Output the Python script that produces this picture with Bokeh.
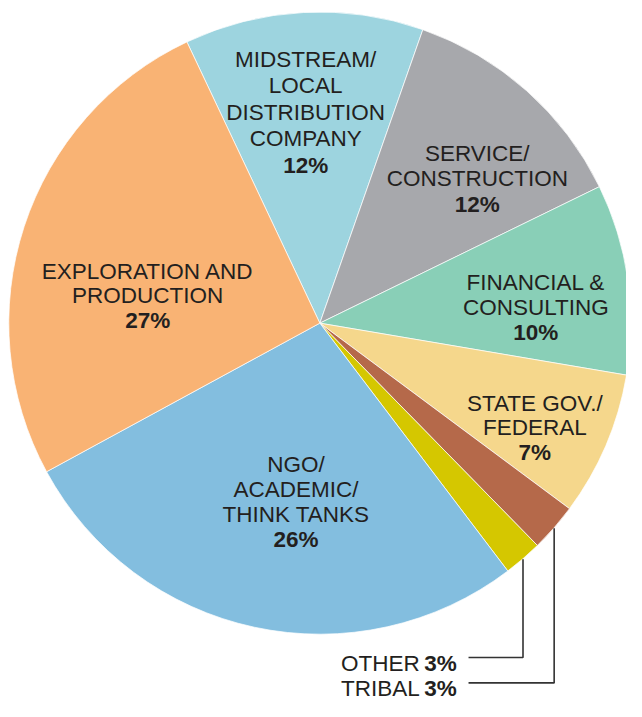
from bokeh.plotting import figure
from bokeh.models import Range1d, ColumnDataSource
from bokeh.core.properties import value
from bokeh.embed import file_html
from bokeh.resources import INLINE
import math

# ---- data (clockwise from the top boundary) ----
categories = ["MIDSTREAM/\nLOCAL\nDISTRIBUTION\nCOMPANY", "SERVICE/\nCONSTRUCTION",
              "FINANCIAL &\nCONSULTING", "STATE GOV./\nFEDERAL", "TRIBAL", "OTHER",
              "NGO/\nACADEMIC/\nTHINK TANKS", "EXPLORATION AND\nPRODUCTION"]
shares = [12.4, 12.4, 9.9, 7.5, 2.5, 2.0, 27.4, 25.9]          # drawn slice sizes
pct_labels = ["12%", "12%", "10%", "7%", "3%", "3%", "26%", "27%"]  # printed labels
colors = ["#9DD4DF", "#A7A8AC", "#89CFB7", "#F5D78C", "#B5694A", "#D5C700", "#83BEDF", "#F9B374"]

# ---- layout constants (reference-pixel coordinates, y downward) ----
CX, CY, R = 327.5, 330.0, 319.0
START = -25.3  # clockwise-from-up angle of first boundary
FONT = "Liberation Sans"
FS = "22.5px"
TXT = "#231F20"

W, H = 626, 701
p = figure(width=W, height=H, output_backend="svg", toolbar_location=None,
           x_range=Range1d(0, 642), y_range=Range1d(-717, 0), min_border=0)
p.axis.visible = False
p.grid.visible = False
p.outline_line_color = None
p.background_fill_color = "white"

total = sum(shares)
starts, ends, mids = [], [], []
acc = START
for s in shares:
    span = 360.0 * s / total
    t0, t1 = acc, acc + span
    starts.append(math.radians(90 - t1))
    ends.append(math.radians(90 - t0))
    mids.append((t0 + t1) / 2)
    acc = t1

src = ColumnDataSource(dict(start=starts, end=ends, color=colors))
p.wedge(x=CX, y=-CY, radius=R, start_angle="start", end_angle="end",
        fill_color="color", line_color="white", line_width=0.7, source=src)

# in-slice labels: (index, x center, first baseline, line spacing)
inside = [(0, 313, 60.0, 27.1), (1, 489, 156.7, 25.8), (2, 549, 288.3, 25.8),
          (3, 548, 411.7, 25.3), (6, 303, 475.0, 25.6), (7, 151, 276.7, 25.5)]
nx, ny, nt, bx, by, bt = [], [], [], [], [], []
for i, x, b, sp in inside:
    lines = categories[i].split("\n")
    for k, ln in enumerate(lines):
        nx.append(x); ny.append(-(b + k * sp)); nt.append(ln)
    bx.append(x); by.append(-(b + len(lines) * sp)); bt.append(pct_labels[i])

p.text(x=nx, y=ny, text=nt, text_font=value(FONT), text_font_size=FS, text_color=TXT,
       text_align="center", text_baseline="alphabetic")
p.text(x=bx, y=by, text=bt, text_font=value(FONT), text_font_size=FS, text_color=TXT,
       text_align="center", text_baseline="alphabetic", text_font_style="bold")

# outside labels with leader lines: (index, baseline y, leader y)
outside = [(5, 678.0, 672.0), (4, 704.0, 698.0)]
RIGHT = 468.0
for i, base, ly in outside:
    th = math.radians(mids[i])
    ax = CX + R * math.sin(th)
    ay = CY - R * math.cos(th)
    p.line(x=[480, ax, ax], y=[-ly, -ly, -ay], line_color="#333333", line_width=1.6)
    p.text(x=[RIGHT], y=[-base], text=[pct_labels[i]], text_font=value(FONT), text_font_size=FS,
           text_color=TXT, text_align="right", text_baseline="alphabetic", text_font_style="bold")
    p.text(x=[RIGHT - 38], y=[-base], text=[categories[i]], text_font=value(FONT), text_font_size=FS,
           text_color=TXT, text_align="right", text_baseline="alphabetic")

open("out.html", "w").write(file_html(p, INLINE))
